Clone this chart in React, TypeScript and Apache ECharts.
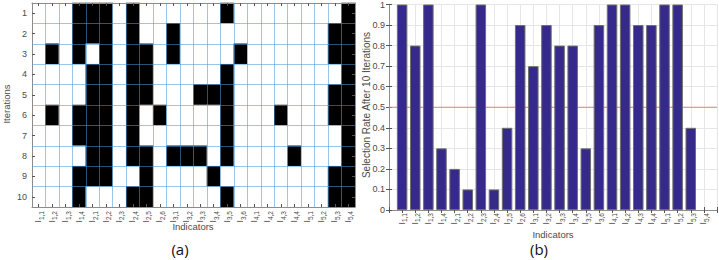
import React, { useEffect, useRef } from 'react';
import * as echarts from 'echarts';

const indicators = ['1,1', '1,2', '1,3', '1,4', '2,1', '2,2', '2,3', '2,4', '2,5', '2,6', '3,1', '3,2', '3,3', '3,4', '3,5', '3,6', '4,1', '4,2', '4,3', '4,4', '5,1', '5,2', '5,3', '5,4'];
const iterations = ['1', '2', '3', '4', '5', '6', '7', '8', '9', '10'];

// 1 = selected (white), 0 = not selected (black)
const iter1 = [1, 1, 1, 0, 0, 0, 1, 0, 1, 1, 1, 1, 1, 1, 0, 1, 1, 1, 1, 1, 1, 1, 1, 0];
const iter2 = [1, 1, 1, 0, 0, 0, 1, 0, 1, 1, 0, 1, 1, 1, 1, 1, 1, 1, 1, 1, 1, 1, 0, 0];
const iter3 = [1, 0, 1, 0, 1, 0, 1, 0, 0, 1, 0, 1, 1, 1, 1, 0, 1, 1, 1, 1, 1, 1, 0, 0];
const iter4 = [1, 1, 1, 1, 0, 0, 1, 0, 0, 1, 1, 1, 1, 1, 0, 1, 1, 1, 1, 1, 1, 1, 1, 0];
const iter5 = [1, 1, 1, 1, 0, 0, 1, 0, 0, 1, 1, 1, 0, 0, 0, 1, 1, 1, 1, 1, 1, 1, 0, 0];
const iter6 = [1, 0, 1, 0, 0, 0, 1, 0, 1, 0, 1, 1, 1, 1, 0, 1, 1, 1, 0, 1, 1, 1, 0, 0];
const iter7 = [1, 1, 1, 0, 0, 0, 1, 0, 1, 1, 1, 1, 1, 1, 0, 1, 1, 1, 1, 1, 1, 1, 1, 0];
const iter8 = [1, 1, 1, 1, 0, 0, 1, 0, 0, 1, 0, 0, 0, 1, 0, 1, 1, 1, 1, 0, 1, 1, 1, 0];
const iter9 = [1, 1, 1, 0, 0, 0, 1, 1, 0, 1, 1, 1, 1, 0, 1, 1, 1, 1, 1, 1, 1, 1, 0, 0];
const iter10 = [1, 1, 1, 0, 1, 1, 1, 0, 0, 1, 1, 1, 1, 1, 0, 1, 1, 1, 1, 1, 1, 1, 0, 0];
const selectionMatrix = [iter1, iter2, iter3, iter4, iter5, iter6, iter7, iter8, iter9, iter10];

const selectionRate = [1, 0.8, 1, 0.3, 0.2, 0.1, 1, 0.1, 0.4, 0.9, 0.7, 0.9, 0.8, 0.8, 0.3, 0.9, 1, 1, 0.9, 0.9, 1, 1, 0.4, 0];
const threshold = 0.5;
const xRange = [0, 25];

const FONT = "'Liberation Sans', Arial, sans-serif";
const LABEL_COLOR = '#4a4a4a';
const BOX_COLOR = '#8c8c8c';

const richLabel = {
  a: { fontSize: 8.5, fontFamily: FONT, color: LABEL_COLOR, lineHeight: 10, verticalAlign: 'top' },
  b: { fontSize: 6.5, fontFamily: FONT, color: LABEL_COLOR, lineHeight: 7, padding: [4, 0, 0, 0], verticalAlign: 'top' },
};

const fmtInd = (s: string) => `{a|I}{b|${s}}`;

export default function App() {
  const ref = useRef<HTMLDivElement>(null);
  useEffect(() => {
    if (!ref.current) return;
    const chart = echarts.init(ref.current, undefined, { renderer: 'svg' });
    const heatData: number[][] = [];
    selectionMatrix.forEach((row, r) => row.forEach((v, c) => heatData.push([c, r, v])));
    const barData = selectionRate.map((v, i) => ({
      value: [i + 1, v],
      itemStyle: v === 0 ? { borderWidth: 0 } : undefined,
    }));

    const tickStyle = { show: true, inside: true, length: 3, lineStyle: { color: '#555', width: 1 } };
    const axisLine = { show: true, lineStyle: { color: BOX_COLOR, width: 1 } };
    const heatSplit = { show: true, interval: 0, lineStyle: { color: 'rgba(70,150,215,0.55)', width: 1 } };
    const barSplit = { show: true, lineStyle: { color: '#e6e6e6', width: 1 } };

    chart.setOption({
      animation: false,
      grid: [
        { left: 32, top: 3, width: 323, height: 204 },
        { left: 389, top: 3.5, width: 328, height: 206.5 },
      ],
      visualMap: {
        type: 'piecewise',
        show: false,
        seriesIndex: 0,
        dimension: 2,
        pieces: [
          { value: 0, color: '#000000' },
          { value: 1, color: '#ffffff' },
        ],
      },
      xAxis: [
        {
          gridIndex: 0, type: 'category', data: indicators, position: 'bottom', z: 5,
          axisLine, axisTick: { ...tickStyle, alignWithLabel: true, interval: 0 },
          splitLine: heatSplit,
          axisLabel: { interval: 0, rotate: 90, margin: 4, formatter: fmtInd, rich: richLabel },
        },
        {
          gridIndex: 0, type: 'category', data: indicators, position: 'top', z: 5,
          axisLine, axisTick: { ...tickStyle, alignWithLabel: true, interval: 0 },
          axisLabel: { show: false }, splitLine: { show: false },
        },
        {
          gridIndex: 1, type: 'value', min: xRange[0], max: xRange[1], interval: 1, position: 'bottom',
          axisLine, axisTick: tickStyle, splitLine: barSplit,
          axisLabel: {
            rotate: 90, margin: 3, rich: richLabel,
            formatter: (v: number) => (v >= 1 && v <= indicators.length ? fmtInd(indicators[v - 1]) : ''),
          },
        },
        {
          gridIndex: 1, type: 'value', min: xRange[0], max: xRange[1], interval: 1, position: 'top',
          axisLine, axisTick: tickStyle, splitLine: { show: false }, axisLabel: { show: false },
        },
      ],
      yAxis: [
        {
          gridIndex: 0, type: 'category', data: iterations, inverse: true, position: 'left', z: 5,
          axisLine, axisTick: { ...tickStyle, alignWithLabel: true, interval: 0 },
          splitLine: heatSplit,
          axisLabel: { interval: 0, fontSize: 9, fontFamily: FONT, color: LABEL_COLOR, margin: 5, padding: [0, 0, 8, 0] },
        },
        {
          gridIndex: 0, type: 'category', data: iterations, inverse: true, position: 'right', z: 5,
          axisLine, axisTick: { ...tickStyle, alignWithLabel: true, interval: 0 },
          axisLabel: { show: false }, splitLine: { show: false },
        },
        {
          gridIndex: 1, type: 'value', min: 0, max: 1, interval: 0.1, position: 'left',
          axisLine, axisTick: tickStyle, splitLine: barSplit,
          axisLabel: {
            fontSize: 9, fontFamily: FONT, color: LABEL_COLOR, margin: 4,
            formatter: (v: number) => String(Math.round(v * 10) / 10),
          },
        },
        {
          gridIndex: 1, type: 'value', min: 0, max: 1, interval: 0.1, position: 'right',
          axisLine, axisTick: tickStyle, splitLine: { show: false }, axisLabel: { show: false },
        },
      ],
      series: [
        {
          type: 'heatmap', xAxisIndex: 0, yAxisIndex: 0, data: heatData,
          itemStyle: { borderWidth: 0 }, emphasis: { disabled: true },
        },
        {
          type: 'line', xAxisIndex: 2, yAxisIndex: 2, z: 1,
          data: [[xRange[0], threshold], [xRange[1], threshold]],
          symbol: 'none', silent: true,
          lineStyle: { color: '#e68080', width: 1 },
        },
        {
          type: 'bar', xAxisIndex: 2, yAxisIndex: 2, data: barData, barWidth: 10.5, z: 2,
          itemStyle: { color: '#35298b', borderColor: '#6e6e6e', borderWidth: 1 },
        },
      ],
      graphic: [
        { type: 'text', x: 6, y: 104, rotation: Math.PI / 2, style: { text: 'Iterations', font: `9.5px ${FONT}`, fill: LABEL_COLOR, align: 'center', verticalAlign: 'middle' } },
        { type: 'text', x: 193, y: 226, style: { text: 'Indicators', font: `9.5px ${FONT}`, fill: LABEL_COLOR, align: 'center', verticalAlign: 'middle' } },
        { type: 'text', x: 366, y: 105, rotation: Math.PI / 2, style: { text: 'Selection Rate After 10 Iterations', font: `10px ${FONT}`, fill: LABEL_COLOR, align: 'center', verticalAlign: 'middle' } },
        { type: 'text', x: 553, y: 234, style: { text: 'Indicators', font: `9.5px ${FONT}`, fill: LABEL_COLOR, align: 'center', verticalAlign: 'middle' } },
        { type: 'text', x: 180, y: 249, style: { text: '(a)', font: `15px 'Open Sans', ${FONT}`, fill: '#111', align: 'center', verticalAlign: 'middle' } },
        { type: 'text', x: 539, y: 249, style: { text: '(b)', font: `15px 'Open Sans', ${FONT}`, fill: '#111', align: 'center', verticalAlign: 'middle' } },
      ],
    });
    return () => chart.dispose();
  }, []);
  return <div ref={ref} style={{ position: 'fixed', left: 0, top: 0, width: 719, height: 260, background: '#fff' }} />;
}
